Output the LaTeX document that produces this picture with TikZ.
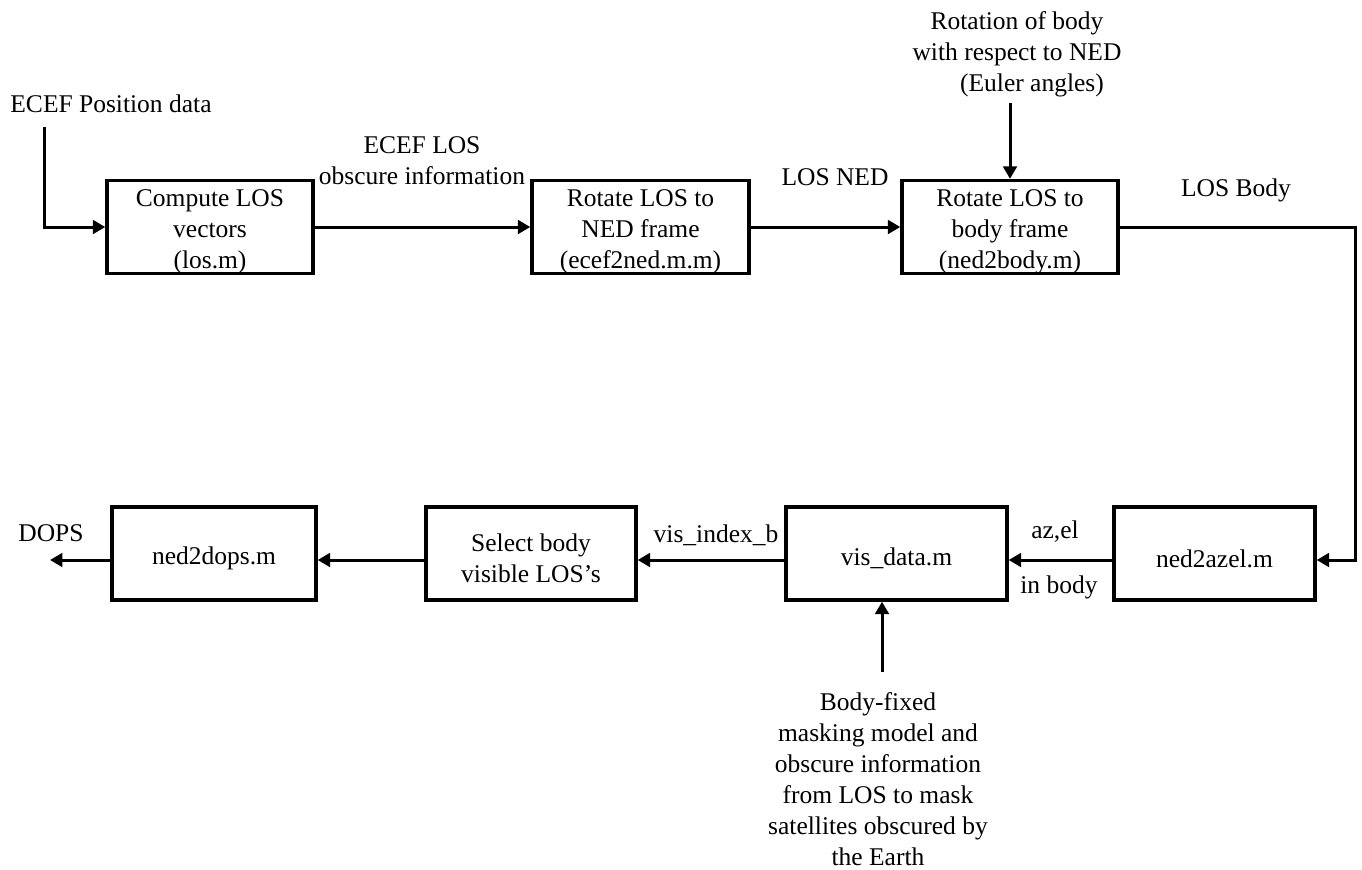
\documentclass[tikz,border=0pt]{standalone}
\usepackage{fontspec}
\setmainfont{Liberation Serif}
\usetikzlibrary{arrows.meta,calc}
\begin{document}
\begin{tikzpicture}[x=0.5pt,y=-0.5pt,
  every node/.style={font=\fontsize{12.75pt}{15.5pt}\selectfont, inner sep=0pt, align=center},
  blk/.style={draw, line width=1.7pt, minimum height=46.5pt},
  lbl/.style={yshift=-2.5pt},
  arr/.style={line width=1.5pt, -{Triangle[length=6.2pt,width=6.8pt]}}]
\useasboundingbox (0,0) rectangle (1362,869);
% top row boxes
\node[blk, minimum width=103pt, label={[lbl]center:{Compute LOS\\vectors\\(los.m)}}] (b1) at (210,227) {};
\node[blk, minimum width=108.5pt, label={[lbl]center:{Rotate LOS to\\NED frame\\(ecef2ned.m.m)}}] (b2) at (640.5,227) {};
\node[blk, minimum width=108pt, label={[lbl]center:{Rotate LOS to\\body frame\\(ned2body.m)}}] (b3) at (1010,227) {};
% bottom row boxes
\node[blk, minimum width=102pt, label={[lbl]center:{ned2dops.m}}] (dops) at (214,553.5) {};
\node[blk, minimum width=105pt, label={[lbl]center:{Select body\\visible LOS’s}}] (sel) at (531,553.5) {};
\node[blk, minimum width=110.5pt, label={[lbl]center:{vis\_data.m}}] (vis) at (896.5,553.5) {};
\node[blk, minimum width=100.5pt, label={[lbl]center:{ned2azel.m}}] (azel) at (1214.5,553.5) {};
% free text
\node (ecefpos) at (111,104) {ECEF Position data};
\node (ecefLOS) at (422,161) {ECEF LOS\\obscure information};
\node (losned) at (835,177) {LOS NED};
\node (losbody) at (1236,190) {LOS Body};
\node (euler) at (1017,54) {Rotation of body\\with respect to NED\\\hspace*{15pt}(Euler angles)};
\node (dopsl) at (51,533) {DOPS};
\node (visidx) at (716,535) {vis\_index\_b};
\node (azell) at (1055,532) {az,el};
\node (inbody) at (1059,587) {in body};
\node (bodyfix) at (878,779) {Body-fixed\\masking model and\\obscure information\\from LOS to mask\\satellites obscured by\\the Earth};
% coordinates
\coordinate (s1) at (44,127);
\coordinate (e1) at (1010,103);
\coordinate (c1) at (1355,227);
\coordinate (c2) at (1355,560);
\coordinate (yb) at (0,560);
\coordinate (d1) at (50,560);
\coordinate (m1) at (882,672);
% connectors
\draw[arr] (s1) |- (b1.west);
\draw[arr] (b1.east) -- (b2.west);
\draw[arr] (b2.east) -- (b3.west);
\draw[arr] (e1) -- (e1 |- b3.north);
\draw[arr] (b3.east) -- (c1) -- (c2) -- (azel.east |- yb);
\draw[arr] (azel.west |- yb) -- (vis.east |- yb);
\draw[arr] (vis.west |- yb) -- (sel.east |- yb);
\draw[arr] (sel.west |- yb) -- (dops.east |- yb);
\draw[arr] (dops.west |- yb) -- (d1);
\draw[arr] (m1) -- (m1 |- vis.south);
\end{tikzpicture}
\end{document}
